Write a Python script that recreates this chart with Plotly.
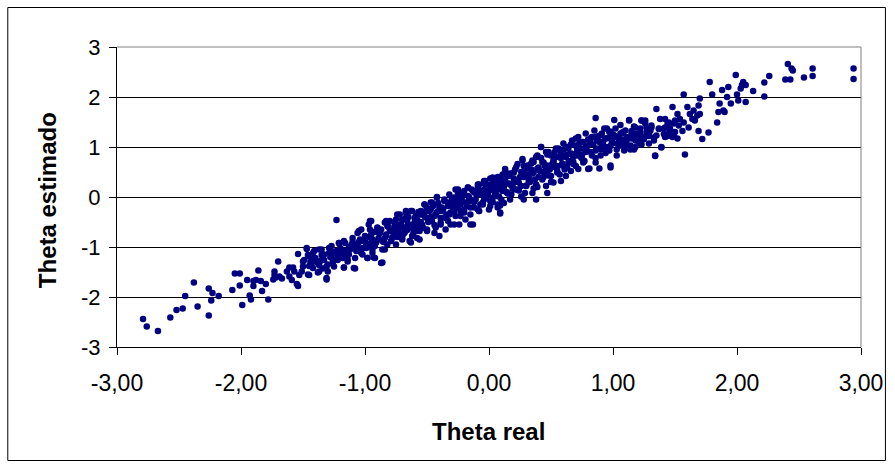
import plotly.graph_objects as go

# Real vs. estimated ability (theta) for the simulated examinees
theta_real = [
    -2.79, -2.76, -2.67, -2.57, -2.52, -2.47, -2.45, -2.38, -2.35, -2.26,
    -2.23, -2.24, -2.26, -2.18, -2.07, -2.05, -2.01, -2.01, -1.99,
    -1.95, -1.90, -1.90, -1.86, -1.88, -1.84, -1.83, -1.80, -1.78, -1.93,
    -1.92, -1.74, -1.73, -1.72, -1.70, -1.69, -1.67, -1.73, -1.63, -1.61,
    -1.61, -1.58, -1.57, -1.59, -1.55, -1.54, -1.54, -1.53, -1.51, -1.50,
    -1.49, -1.47, -1.46, -1.45, -1.45, -1.43, -1.42, -1.41, -1.39, -1.38,
    -1.37, -1.37, -1.35, -1.34, -1.33, -1.31, -1.31, -1.30, -1.29, -1.27,
    -1.26, -1.25, -1.23, -1.23, -1.22, -1.21, -1.19, -1.18, -1.17, -1.16,
    -1.15, -1.14, -1.12, -1.11, -1.10, -1.08, -1.08, -1.07, -1.06, -1.06,
    -1.04, -1.03, -1.03, -1.02, -1.00, -0.99, -0.98, -0.96, -0.96, -0.95,
    -0.94, -0.94,
    -1.50, -1.47, -1.46, -1.45, -1.42, -1.41, -1.38, -1.37, -1.35, -1.34,
    -1.31, -1.30, -1.29, -1.27, -1.26, -1.23, -1.21, -1.19, -1.17, -1.17,
    -1.14, -1.13, -1.10, -1.09, -1.07, -1.05, -1.03, -1.02, -0.99, -0.98,
    -0.97, -0.95, -0.94, -0.92, -0.91, -0.90, -0.88, -0.87, -0.86, -0.84,
    -0.83, -0.82, -0.80, -0.78, -0.76, -0.75, -0.74, -0.72, -0.71, -0.70,
    -0.68, -0.67, -0.66, -0.64, -0.63, -0.62, -0.60, -0.59, -0.58, -0.56,
    -0.55, -0.54, -0.52, -0.51, -0.50, -0.48, -0.47, -0.46, -0.44, -0.43,
    -0.42, -0.40, -0.39, -0.38, -0.36, -0.35, -0.33, -0.32, -0.31, -0.29,
    -0.28, -0.27, -0.25, -0.24, -0.23, -0.21, -0.20, -0.19, -0.17, -0.16,
    -0.15, -0.13, -0.12, -0.11, -0.09, -0.08, -0.07, -0.05, -0.04, -0.03,
    -0.01, 0.00, 0.01, 0.03, 0.04, 0.05, 0.07, 0.08,
    -0.95, -0.94, -0.93, -0.91, -0.90, -0.89, -0.86, -0.86, -0.84, -0.84,
    -0.83, -0.82, -0.80, -0.79, -0.78, -0.76, -0.75, -0.74, -0.73, -0.71,
    -0.70, -0.68, -0.67, -0.67, -0.66, -0.63, -0.62, -0.62, -0.60, -0.59,
    -0.56, -0.58, -0.55, -0.54, -0.52, -0.51, -0.50, -0.48, -0.47, -0.46,
    -0.44, -0.43, -0.42, -0.40, -0.40, -0.39, -0.38, -0.36, -0.35, -0.33,
    -0.32, -0.31, -0.29, -0.28, -0.27, -0.25, -0.24, -0.23, -0.21, -0.20,
    -0.19, -0.17, -0.16, -0.15, -0.13, -0.12, -0.11, -0.09, -0.08, -0.08,
    -0.07, -0.05, -0.04, -0.03, -0.01, 0.00, 0.01, 0.03, 0.04, 0.05,
    0.07, 0.08, 0.09, 0.11, 0.11,
    -0.08, -0.05, -0.04, -0.03, 0.00, 0.01, 0.03, 0.04, 0.05, 0.07,
    0.08, 0.09, 0.11, 0.12, 0.13, 0.15, 0.16, 0.17, 0.19, 0.20,
    0.22, 0.23, 0.24, 0.26, 0.27, 0.28, 0.30, 0.31, 0.32, 0.34,
    0.35, 0.36, 0.38, 0.39, 0.40, 0.42, 0.43, 0.44, 0.46, 0.47,
    0.48, 0.50, 0.51, 0.52, 0.54, 0.55, 0.56, 0.58, 0.59, 0.60,
    0.62, 0.63, 0.64, 0.66, 0.67, 0.68, 0.70, 0.71, 0.72, 0.74,
    0.75, 0.76, 0.78, 0.79, 0.81, 0.82, 0.83, 0.85, 0.86, 0.87,
    0.89, 0.90, 0.91, 0.93, 0.94, 0.95, 0.97, 0.98, 0.99, 1.01,
    1.02, 1.03, 1.05, 1.06, 1.07, 1.09, 1.10, 1.11, 1.13, 1.14,
    1.15, 1.17, 1.18, 1.19, 1.21, 1.22, 1.23, 1.25, 1.26, 1.27,
    1.29, 1.30, 1.31, 1.33, 1.34, 1.35, 1.37, 1.39, 1.41, 1.42,
    1.44, 1.45, 1.46, 1.48, 1.49, 1.50, 1.52,
    0.08, 0.09, 0.11, 0.12, 0.13, 0.13, 0.15, 0.16, 0.17, 0.19,
    0.20, 0.21, 0.23, 0.24, 0.26, 0.27, 0.28, 0.28, 0.30, 0.31,
    0.32, 0.35, 0.35, 0.36, 0.38, 0.38, 0.39, 0.40, 0.42, 0.43,
    0.44, 0.46, 0.47, 0.47, 0.48, 0.50, 0.51, 0.52, 0.54, 0.55,
    0.56, 0.58, 0.59, 0.60, 0.62, 0.63, 0.64, 0.66, 0.67, 0.68,
    0.70, 0.71, 0.72, 0.74, 0.75, 0.76, 0.78, 0.79, 0.80, 0.82,
    0.83, 0.85, 0.86, 0.86, 0.87, 0.89, 0.90, 0.91, 0.93, 0.94,
    0.95, 0.97, 0.98, 0.98, 0.99, 1.01, 1.02, 1.03, 1.05, 1.06,
    1.07, 1.09, 1.10, 1.11, 1.13, 1.14, 1.15, 1.17,
    1.13, 1.14, 1.17, 1.18, 1.19, 1.21, 1.22, 1.23, 1.23, 1.25,
    1.26, 1.27, 1.29, 1.30, 1.31, 1.33, 1.34, 1.35, 1.37, 1.38,
    1.39, 1.41, 1.42, 1.42, 1.44, 1.45, 1.46, 1.48, 1.49, 1.50,
    1.52, 1.53, 1.54, 1.56, 1.57, 1.57, 1.58, 1.60, 1.61, 1.62,
    1.64, 1.65, 1.66, 1.68, 1.69, 1.69, 1.70, 1.70, 1.72, 1.77,
    1.78, 1.80, 1.84, 1.85, 1.86, 1.88, 1.89, 1.90, 1.92, 1.93,
    1.95, 1.99, 2.00, 2.01, 2.03, 2.04, 2.05, 2.07, 2.07, 2.13,
    2.22, 2.26, 2.22, 2.39, 2.41, 2.43, 2.44, 2.45, 2.54, 2.61,
    2.61, 2.94, 2.94,
    # densest part of the band
    -1.44, -1.40, -1.36, -1.33, -1.28, -1.25, -1.22, -1.20, -1.16, -1.13,
    -1.11, -1.08, -1.05, -1.04, -1.01, -0.99, -0.97, -0.95, -0.93, -0.92,
    -0.89, -0.87, -0.85, -0.83, -0.81, -0.79, -0.77, -0.76, -0.74, -0.72,
    -0.70, -0.69, -0.66, -0.65, -0.63, -0.61, -0.60, -0.58, -0.57, -0.55,
    -0.53, -0.52, -0.50, -0.49, -0.47, -0.45, -0.44, -0.42, -0.41, -0.39,
    -0.37, -0.36, -0.34, -0.33, -0.31, -0.30, -0.28, -0.26, -0.25, -0.23,
    -0.22, -0.20, -0.18, -0.17, -0.15, -0.14, -0.12, -0.10, -0.09, -0.07,
    -0.06, -0.04, -0.02, -0.01, 0.01, 0.02, 0.04, 0.06, 0.07, 0.09,
    0.10, 0.12, 0.14, 0.15, 0.17, 0.18, 0.20, 0.21, 0.23, 0.25,
    0.26, 0.28, 0.29, 0.31, 0.33, 0.34, 0.36, 0.37, 0.39, 0.41,
    0.42, 0.44, 0.45, 0.47, 0.49, 0.50, 0.52, 0.53, 0.55, 0.57,
    0.58, 0.60, 0.61, 0.63, 0.65, 0.66, 0.68, 0.70, 0.71, 0.73,
    0.75, 0.77, 0.78, 0.80, 0.82, 0.84, 0.86, 0.88, 0.90, 0.92,
    0.94, 0.96, 0.98, 1.00, 1.03, 1.05, 1.08, 1.10, 1.12, 1.15,
    1.18, 1.20, 1.24,
]

theta_estimado = [
    -2.44, -2.59, -2.68, -2.41, -2.26, -2.23, -1.98, -1.71, -2.19, -1.83,
    -1.92, -2.07, -2.37, -1.98, -1.86, -1.53, -1.53, -1.77, -2.16,
    -1.66, -1.68, -1.78, -1.47, -1.66, -1.68, -1.88, -1.74, -2.05, -1.97,
    -2.05, -1.65, -1.56, -1.61, -1.29, -1.59, -1.63, -1.49, -1.49, -1.41,
    -1.59, -1.41, -1.49, -1.66, -1.74, -1.78, -1.14, -1.56, -1.49, -1.39,
    -1.26, -1.04, -1.16, -1.38, -1.56, -1.32, -1.12, -1.22, -1.29, -1.51,
    -1.36, -1.05, -1.16, -1.43, -1.26, -1.39, -1.65, -1.49, -1.02, -1.19,
    -1.32, -1.39, -1.12, -0.46, -1.26, -0.92, -1.05, -1.22, -1.41, -0.92,
    -1.16, -1.29, -1.05, -0.99, -0.89, -1.43, -1.22, -1.05, -0.95, -0.72,
    -0.85, -1.12, -0.65, -1.02, -0.78, -0.92, -1.22, -0.48, -0.65, -0.99,
    -0.85, -1.12,
    -1.29, -1.02, -1.55, -1.19, -1.42, -1.08, -1.32, -1.49, -1.05, -1.22,
    -1.62, -1.35, -1.12, -0.98, -1.25, -1.08, -0.92, -1.15, -1.41, -0.88,
    -1.25, -1.02, -0.82, -1.42, -1.08, -0.68, -0.88, -1.15, -0.95, -1.22,
    -0.55, -0.75, -1.05, -1.22, -0.88, -0.62, -0.72, -1.32, -1.05, -0.82,
    -0.48, -0.95, -0.68, -0.82, -0.58, -0.95, -0.72, -0.35, -0.55, -0.82,
    -0.62, -0.31, -0.48, -0.88, -0.28, -0.62, -0.52, -0.38, -0.82, -0.68,
    -0.28, -0.55, -0.15, -0.41, -0.65, -0.28, -0.11, -0.48, -0.72, -0.35,
    -0.01, -0.21, -0.55, -0.28, -0.05, -0.41, -0.18, 0.05, -0.31, -0.08,
    -0.55, 0.15, -0.21, -0.01, -0.38, 0.05, -0.25, -0.11, 0.19, -0.01,
    -0.55, 0.12, -0.21, -0.05, 0.25, -0.28, 0.09, -0.15, 0.32, 0.02,
    0.15, -0.25, 0.25, -0.01, 0.35, 0.12, -0.15, 0.19,
    -0.48, -0.85, -1.21, -0.91, -0.61, -0.71, -1.31, -0.88, -1.05, -0.51,
    -0.78, -0.58, -0.48, -0.68, -0.81, -0.61, -0.45, -0.35, -0.71, -0.55,
    -0.85, -0.71, -0.28, -0.41, -0.58, -0.91, -0.28, -0.78, -0.51, -0.68,
    -0.85, -0.45, -0.35, -0.58, -0.15, -0.28, -0.68, -0.48, -0.25, -0.11,
    -0.38, -0.61, 0.00, -0.78, -0.28, -0.51, -0.21, -0.41, -0.65, -0.11,
    -0.35, -0.55, -0.21, -0.01, -0.38, 0.15, -0.55, -0.15, 0.05, -0.31,
    -0.45, 0.19, -0.08, -0.21, -0.55, 0.09, -0.05, -0.25, -0.28, 0.25,
    0.05, -0.11, 0.15, 0.32, -0.01, 0.12, -0.18, 0.39, 0.22, 0.09,
    -0.21, 0.29, -0.31, 0.12, 0.45,
    0.13, -0.13, 0.27, 0.00, 0.13, 0.37, -0.10, 0.20, 0.07, 0.40,
    0.23, -0.17, 0.13, 0.33, 0.53, 0.07, 0.27, 0.47, 0.17, 0.37,
    0.60, 0.30, 0.13, 0.50, 0.73, 0.40, 0.23, 0.57, 0.33, 0.67,
    0.47, 0.17, 0.80, 0.57, 0.40, 1.00, 0.70, 0.50, 0.90, 0.63,
    0.43, 0.83, 0.60, 0.73, 0.97, 0.53, 0.80, 0.90, 0.67, 1.07,
    0.80, 0.60, 0.97, 0.87, 1.13, 0.70, 1.03, 0.83, 1.20, 0.97,
    0.77, 1.10, 1.27, 0.93, 0.57, 1.07, 1.20, 1.33, 0.93, 1.13,
    0.57, 1.23, 1.03, 1.37, 1.17, 1.00, 1.30, 0.63, 1.13, 1.23,
    1.37, 1.07, 1.20, 1.27, 1.03, 0.93, 1.33, 1.13, 1.20, 0.97,
    1.27, 1.40, 1.13, 1.27, 1.07, 1.37, 1.53, 1.20, 1.47, 1.30,
    1.07, 1.33, 1.43, 1.13, 0.83, 1.23, 1.37, 1.00, 1.37, 1.20,
    1.47, 1.27, 1.37, 1.20, 1.47, 1.30, 1.17,
    0.01, -0.33, 0.22, -0.12, 0.56, 0.32, 0.08, 0.42, -0.05, 0.22,
    0.49, 0.15, 0.66, 0.29, 0.01, 0.76, 0.49, -0.05, 0.22, 0.63,
    0.39, 0.08, 0.73, 0.49, -0.05, 0.25, 0.83, 0.59, 1.00, 0.35,
    0.69, 0.22, 0.08, 0.52, 0.90, 0.42, 0.66, 0.29, 0.80, 0.49,
    0.97, 0.32, 0.63, 0.83, 0.42, 1.00, 0.69, 0.52, 0.86, 0.66,
    1.17, 0.97, 0.56, 0.80, 1.10, 0.69, 0.90, 1.03, 0.56, 1.17,
    0.83, 1.20, 0.69, 1.58, 0.97, 1.10, 0.83, 1.27, 1.00, 1.17,
    1.37, 0.93, 0.59, 1.31, 1.07, 1.54, 1.20, 0.83, 1.03, 1.44,
    1.27, 1.14, 0.97, 1.20, 1.54, 1.03, 1.17, 1.41,
    1.53, 0.95, 0.95, 1.39, 1.22, 1.12, 1.29, 1.53, 1.05, 1.16,
    1.53, 1.39, 1.22, 1.32, 1.39, 1.19, 0.82, 1.76, 1.36, 1.56,
    0.99, 1.26, 1.56, 1.39, 1.22, 1.49, 1.32, 1.80, 1.22, 1.53,
    1.66, 1.43, 1.56, 1.32, 2.05, 1.49, 0.85, 1.80, 1.39, 1.66,
    1.56, 1.73, 1.53, 1.63, 1.83, 1.32, 1.97, 1.66, 1.16, 1.29,
    2.30, 2.05, 1.49, 1.70, 1.87, 2.14, 1.73, 1.70, 2.00, 2.20,
    1.87, 2.44, 2.05, 1.93, 2.17, 2.24, 2.30, 1.90, 2.24, 2.12,
    2.29, 2.42, 2.01, 2.35, 2.66, 2.35, 2.57, 2.53, 2.39, 2.57,
    2.42, 2.57, 2.36,
    # densest part of the band
    -1.30, -1.22, -1.28, -1.15, -1.20, -1.10, -1.18, -1.02, -1.08, -1.15,
    -0.96, -1.00, -0.90, -1.05, -0.88, -1.02, -0.80, -0.92, -0.70, -0.98,
    -0.82, -0.65, -0.90, -0.75, -0.60, -0.88, -0.72, -0.52, -0.80, -0.62,
    -0.45, -0.74, -0.66, -0.40, -0.56, -0.72, -0.42, -0.60, -0.30, -0.50,
    -0.62, -0.38, -0.22, -0.50, -0.40, -0.18, -0.56, -0.30, -0.12, -0.42,
    -0.25, -0.08, -0.35, -0.48, -0.15, -0.02, -0.30, -0.12, 0.08, -0.28,
    -0.05, 0.12, -0.18, 0.02, -0.35, 0.15, -0.10, 0.05, 0.20, -0.15,
    0.10, -0.05, 0.22, 0.05, -0.08, 0.18, 0.30, 0.02, 0.15, 0.38,
    -0.05, 0.20, 0.10, 0.42, 0.25, 0.05, 0.30, 0.55, 0.15, 0.40,
    0.22, 0.62, 0.08, 0.45, 0.30, 0.55, 0.70, 0.35, 0.20, 0.52,
    0.78, 0.40, 0.62, 0.85, 0.55, 0.30, 0.70, 0.90, 0.62, 0.45,
    0.78, 0.95, 0.55, 0.85, 0.72, 1.05, 0.80, 0.62, 0.92, 1.08,
    0.85, 0.72, 1.00, 1.15, 0.90, 1.05, 0.78, 1.22, 0.95, 1.10,
    0.88, 1.18, 1.02, 1.25, 0.95, 1.12, 1.30, 1.05, 1.18, 1.32,
    1.00, 1.22, 1.15,
]

x_ticks = [-3, -2, -1, 0, 1, 2, 3]
x_tick_labels = ["-3,00", "-2,00", "-1,00", "0,00", "1,00", "2,00", "3,00"]
y_ticks = [-3, -2, -1, 0, 1, 2, 3]
y_tick_labels = ["-3", "-2", "-1", "0", "1", "2", "3"]

# Pixel frame of the figure: plot area and surrounding chart border
W, H = 895, 466
PL, PR, PT, PB = 117, 863, 47, 347
pw, ph = PR - PL, PB - PT


def px(x):
    return (x - PL) / pw


def py(y):
    return (PB - y) / ph


fig = go.Figure()
fig.add_trace(go.Scatter(
    x=theta_real,
    y=theta_estimado,
    mode="markers",
    marker=dict(color="#000080", size=6.5, line=dict(width=0)),
    showlegend=False,
    hoverinfo="skip",
))

font = "Liberation Sans, Arial, sans-serif"

fig.update_layout(
    width=W,
    height=H,
    margin=dict(l=PL, r=W - PR, t=PT, b=H - PB, pad=0),
    paper_bgcolor="white",
    plot_bgcolor="white",
    font=dict(family=font, color="black", size=22),
    xaxis=dict(
        range=[-3, 3],
        tickvals=x_ticks,
        ticktext=x_tick_labels,
        showgrid=False,
        zeroline=False,
        showline=True,
        linecolor="black",
        linewidth=1,
        ticks="outside",
        ticklen=7,
        tickcolor="black",
        tickfont=dict(size=23, family=font),
        ticklabelstandoff=8,
    ),
    yaxis=dict(
        range=[-3, 3],
        tickvals=y_ticks,
        ticktext=y_tick_labels,
        showgrid=True,
        gridcolor="black",
        gridwidth=1,
        zeroline=False,
        showline=True,
        linecolor="black",
        linewidth=1,
        ticks="outside",
        ticklen=7,
        tickcolor="black",
        tickfont=dict(size=22, family=font),
        ticklabelstandoff=4,
    ),
    annotations=[
        dict(text="<b>Theta real</b>", xref="paper", yref="paper",
             x=px(489), y=py(431), xanchor="center", yanchor="middle",
             showarrow=False, font=dict(size=24, family=font)),
        dict(text="<b>Theta estimado</b>", xref="paper", yref="paper",
             x=px(47), y=py(200), xanchor="center", yanchor="middle",
             textangle=-90, showarrow=False, font=dict(size=24, family=font)),
    ],
    shapes=[
        # right and top edges of the plot area
        dict(type="line", xref="paper", yref="paper", x0=1, x1=1, y0=0, y1=1,
             line=dict(color="#808080", width=1)),
        dict(type="line", xref="paper", yref="paper", x0=0, x1=1, y0=1, y1=1,
             line=dict(color="#808080", width=1)),
        # chart border
        dict(type="rect", xref="paper", yref="paper",
             x0=px(7.5), x1=px(887.5), y0=py(460.5), y1=py(7.5),
             line=dict(color="black", width=1), fillcolor="rgba(0,0,0,0)"),
    ],
)

fig.write_html("out.html")
